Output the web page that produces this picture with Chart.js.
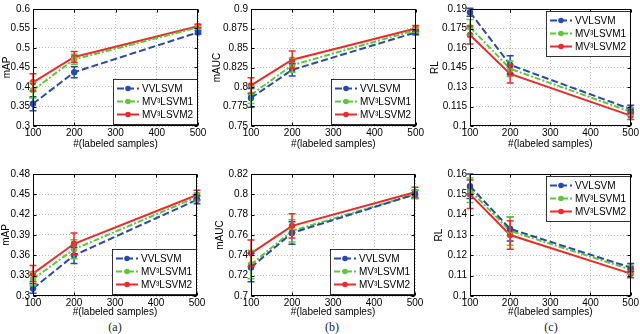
<!DOCTYPE html>
<html>
<head>
<meta charset="utf-8">
<script src="https://cdn.jsdelivr.net/npm/chart.js@4/dist/chart.umd.min.js"></script>
<style>
body { margin: 0; background: #fff; width: 640px; height: 334px; position: relative; overflow: hidden; }
canvas { position: absolute; }
.cap { position: absolute; top: 320px; width: 40px; text-align: center; font-family: "Liberation Serif", serif; font-size: 12px; font-weight: normal; color: #222; }
</style>
</head>
<body>
<canvas id="c0"></canvas>
<canvas id="c1"></canvas>
<canvas id="c2"></canvas>
<canvas id="c3"></canvas>
<canvas id="c4"></canvas>
<canvas id="c5"></canvas>
<div class="cap" style="left:95px">(a)</div>
<div class="cap" style="left:312px">(b)</div>
<div class="cap" style="left:531px">(c)</div>
<script>

var samples = [100, 200, 500];
var xTicks = [100, 200, 300, 400, 500];
var seriesNames = ['VVLSVM', 'MV³LSVM1', 'MV³LSVM2'];

// top row
var mapTop = [[0.357, 0.438, 0.540], [0.392, 0.471, 0.553], [0.412, 0.477, 0.556]];
var mapTopErr = [[0.018, 0.014, 0.004], [0.02, 0.013, 0.004], [0.022, 0.014, 0.005]];
var mapTopTicks = [0.3, 0.35, 0.4, 0.45, 0.5, 0.55, 0.6];

var aucTop = [[0.786, 0.822, 0.870], [0.790, 0.828, 0.873], [0.802, 0.835, 0.875]];
var aucTopErr = [[0.012, 0.008, 0.003], [0.011, 0.009, 0.003], [0.01, 0.011, 0.004]];
var aucTopTicks = [0.75, 0.775, 0.8, 0.825, 0.85, 0.875, 0.9];

var rlTop = [[0.1875, 0.147, 0.113], [0.176, 0.144, 0.111], [0.170, 0.140, 0.108]];
var rlTopErr = [[0.003, 0.007, 0.003], [0.006, 0.006, 0.003], [0.007, 0.007, 0.003]];
var rlTopTicks = [0.1, 0.115, 0.13, 0.145, 0.16, 0.175, 0.19];

// bottom row
var mapBot = [[0.311, 0.360, 0.442], [0.325, 0.369, 0.446], [0.333, 0.377, 0.449]];
var mapBotErr = [[0.007, 0.012, 0.006], [0.01, 0.014, 0.006], [0.012, 0.016, 0.007]];
var mapBotTicks = [0.3, 0.33, 0.36, 0.39, 0.42, 0.45, 0.48];

var aucBot = [[0.728, 0.762, 0.800], [0.731, 0.764, 0.800], [0.742, 0.769, 0.802]];
var aucBotErr = [[0.014, 0.011, 0.004], [0.014, 0.011, 0.004], [0.013, 0.012, 0.005]];
var aucBotTicks = [0.7, 0.72, 0.74, 0.76, 0.78, 0.8, 0.82];

var rlBot = [[0.154, 0.133, 0.114], [0.152, 0.132, 0.113], [0.150, 0.130, 0.111]];
var rlBotErr = [[0.006, 0.006, 0.002], [0.006, 0.007, 0.002], [0.007, 0.007, 0.002]];
var rlBotTicks = [0.1, 0.11, 0.12, 0.13, 0.14, 0.15, 0.16];

var colors = ['#2a4aa8', '#5ec83c', '#ee2a2a'];
var dashes = [[7, 3], [6, 2, 2, 2], []];

Chart.defaults.font.family = '"Liberation Sans", Arial, sans-serif';
Chart.defaults.font.size = 10;
Chart.defaults.color = '#000';

var panels = [
    {vals: mapTop, errs: mapTopErr, ticks: mapTopTicks, yt: 'mAP',  left: 0,   top: 0,   w: 210, h: 152, yw: 33, padT: 4, padR: 12, xh: 26, ytp: 1, leg: 'br'},
    {vals: aucTop, errs: aucTopErr, ticks: aucTopTicks, yt: 'mAUC', left: 210, top: 0,   w: 215, h: 152, yw: 41, padT: 4, padR: 9,  xh: 26, ytp: 1, leg: 'br'},
    {vals: rlTop,  errs: rlTopErr,  ticks: rlTopTicks,  yt: 'RL',   left: 425, top: 0,   w: 215, h: 152, yw: 45, padT: 4, padR: 7,  xh: 26, ytp: 4, leg: 'tr'},
    {vals: mapBot, errs: mapBotErr, ticks: mapBotTicks, yt: 'mAP',  left: 0,   top: 165, w: 210, h: 155, yw: 33, padT: 8, padR: 13, xh: 24, ytp: 0, leg: 'br'},
    {vals: aucBot, errs: aucBotErr, ticks: aucBotTicks, yt: 'mAUC', left: 210, top: 165, w: 215, h: 155, yw: 41, padT: 8, padR: 10, xh: 24, ytp: 4, leg: 'br'},
    {vals: rlBot,  errs: rlBotErr,  ticks: rlBotTicks,  yt: 'RL',   left: 425, top: 165, w: 215, h: 155, yw: 45, padT: 8, padR: 7,  xh: 24, ytp: 8, leg: 'tr'}
];

// error bars, axes box, inward ticks and the boxed legend
var deco = {
    id: 'deco',
    afterDatasetsDraw: function(chart, args, opts) {
        var ctx = chart.ctx, ca = chart.chartArea;
        var xs = chart.scales.x, ys = chart.scales.y;
        ctx.save();
        ctx.setLineDash([]);

        chart.data.datasets.forEach(function(ds) {
            ctx.strokeStyle = ds.borderColor;
            ctx.lineWidth = 1.5;
            ds.data.forEach(function(pt, i) {
                var x = xs.getPixelForValue(pt.x);
                var y1 = ys.getPixelForValue(pt.y - ds.errs[i]);
                var y2 = ys.getPixelForValue(pt.y + ds.errs[i]);
                ctx.beginPath();
                ctx.moveTo(x, y1); ctx.lineTo(x, y2);
                ctx.moveTo(x - 3.5, y1); ctx.lineTo(x + 3.5, y1);
                ctx.moveTo(x - 3.5, y2); ctx.lineTo(x + 3.5, y2);
                ctx.stroke();
            });
        });

        var l = Math.round(ca.left) + 0.5, t = Math.round(ca.top) + 0.5;
        var r = Math.round(ca.right) - 0.5, b = Math.round(ca.bottom) - 0.5;
        ctx.strokeStyle = '#000';
        ctx.lineWidth = 1;
        ctx.strokeRect(l, t, r - l, b - t);
        ctx.beginPath();
        xTicks.forEach(function(v) {
            var x = Math.round(xs.getPixelForValue(v)) + 0.5;
            ctx.moveTo(x, b); ctx.lineTo(x, b - 3);
            ctx.moveTo(x, t); ctx.lineTo(x, t + 3);
        });
        opts.ticks.forEach(function(v) {
            var y = Math.round(ys.getPixelForValue(v)) + 0.5;
            ctx.moveTo(l, y); ctx.lineTo(l + 3, y);
            ctx.moveTo(r, y); ctx.lineTo(r - 3, y);
        });
        ctx.stroke();

        // legend
        var lw = 84, lh = 45;
        var lx = Math.round(ca.right) - 1 - lw;
        var ly = opts.leg == 'tr' ? Math.round(ca.top) + 2 : Math.round(ca.bottom) - 2 - lh;
        ctx.fillStyle = '#fff';
        ctx.fillRect(lx, ly, lw, lh);
        ctx.strokeStyle = '#000';
        ctx.lineWidth = 0.8;
        ctx.strokeRect(lx + 0.5, ly + 0.5, lw, lh);
        ctx.font = '10px "Liberation Sans", Arial, sans-serif';
        ctx.textBaseline = 'middle';
        ctx.textAlign = 'left';
        chart.data.datasets.forEach(function(ds, k) {
            var y = ly + 9.5 + 13 * k;
            ctx.strokeStyle = ds.borderColor;
            ctx.lineWidth = 2;
            ctx.setLineDash(dashes[k]);
            ctx.beginPath();
            ctx.moveTo(lx + 4, y); ctx.lineTo(lx + 26, y);
            ctx.stroke();
            ctx.setLineDash([]);
            ctx.fillStyle = ds.borderColor;
            ctx.beginPath();
            ctx.arc(lx + 15, y, 2.8, 0, Math.PI * 2);
            ctx.fill();
            ctx.fillStyle = '#000';
            ctx.fillText(ds.label, lx + 29, y + 0.5);
        });
        ctx.restore();
    }
};

panels.forEach(function(p, n) {
    var el = document.getElementById('c' + n);
    el.width = p.w;
    el.height = p.h;
    el.style.left = p.left + 'px';
    el.style.top = p.top + 'px';

    var sets = p.vals.map(function(v, k) {
        return {
            label: seriesNames[k],
            data: samples.map(function(s, i) { return {x: s, y: v[i]}; }),
            errs: p.errs[k],
            borderColor: colors[k],
            backgroundColor: colors[k],
            borderWidth: 2,
            borderDash: dashes[k],
            pointRadius: 3.2,
            pointBorderWidth: 0,
            tension: 0,
            clip: false
        };
    });

    new Chart(el, {
        type: 'line',
        data: {datasets: sets},
        options: {
            responsive: false,
            animation: false,
            events: [],
            layout: {autoPadding: false, padding: {top: p.padT, right: p.padR, left: 0, bottom: 0}},
            plugins: {
                legend: {display: false},
                tooltip: {enabled: false},
                deco: {ticks: p.ticks, leg: p.leg}
            },
            scales: {
                x: {
                    type: 'linear', min: 100, max: 500,
                    afterBuildTicks: function(s) { s.ticks = xTicks.map(function(v) { return {value: v}; }); },
                    afterFit: function(s) { s.height = p.xh; },
                    grid: {color: '#bcbcbc', lineWidth: 1, drawTicks: false},
                    border: {display: false, dash: [1, 2]},
                    ticks: {padding: 1, maxRotation: 0, autoSkip: false},
                    title: {display: true, text: '#(labeled samples)', padding: {top: 0, bottom: 2}}
                },
                y: {
                    min: p.ticks[0], max: p.ticks[p.ticks.length - 1],
                    afterBuildTicks: function(s) { s.ticks = p.ticks.map(function(v) { return {value: v}; }); },
                    afterFit: function(s) { s.width = p.yw; },
                    grid: {color: '#bcbcbc', lineWidth: 1, drawTicks: false},
                    border: {display: false, dash: [1, 2]},
                    ticks: {padding: 3, callback: function(v) { return String(parseFloat(v.toFixed(4))); }},
                    title: {display: true, text: p.yt, padding: {top: p.ytp, bottom: 0}}
                }
            }
        },
        plugins: [deco]
    });
});
</script>
</body>
</html>
